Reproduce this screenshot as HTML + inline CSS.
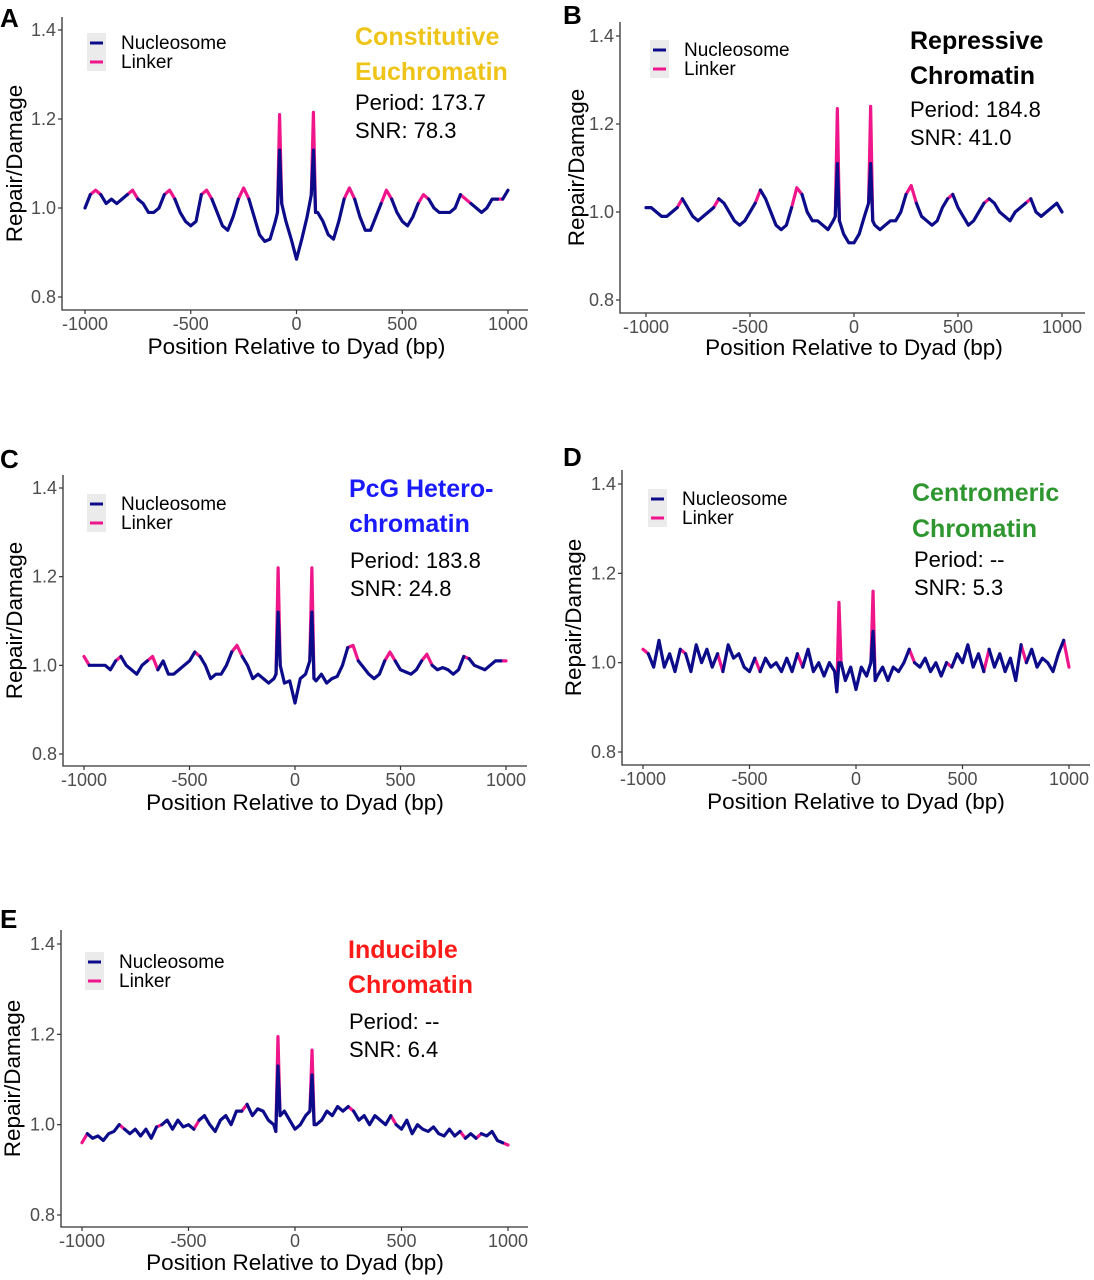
<!DOCTYPE html>
<html><head><meta charset="utf-8">
<style>
html,body{margin:0;padding:0;background:#fff;}
svg{display:block;font-family:"Liberation Sans",sans-serif;}
.tick{font-size:18px;fill:#4d4d4d;}
.axt{font-size:22.5px;fill:#000;}
.leg{font-size:19px;fill:#000;}
.ttl{font-size:25px;font-weight:bold;}
.stat{font-size:22px;fill:#000;}
.plab{font-size:26px;font-weight:bold;fill:#000;}
</style></head>
<body>
<svg id="fig" width="1094" height="1280" viewBox="0 0 1094 1280">
<text class="plab" x="0" y="27">A</text>
<text class="plab" x="563" y="24">B</text>
<text class="plab" x="0" y="468">C</text>
<text class="plab" x="563" y="466">D</text>
<text class="plab" x="0" y="928">E</text>

<g>
<text class="ttl" x="355" y="45" fill="#efc418">Constitutive</text>
<text class="ttl" x="355" y="80" fill="#efc418">Euchromatin</text>
<text class="stat" x="355" y="110">Period: 173.7</text>
<text class="stat" x="355" y="138">SNR: 78.3</text>
</g>
<g>
<text class="ttl" x="910" y="49" fill="#000">Repressive</text>
<text class="ttl" x="910" y="84" fill="#000">Chromatin</text>
<text class="stat" x="910" y="117">Period: 184.8</text>
<text class="stat" x="910" y="145">SNR: 41.0</text>
</g>
<g>
<text class="ttl" x="349" y="497" fill="#1a1aff">PcG Hetero-</text>
<text class="ttl" x="349" y="532" fill="#1a1aff">chromatin</text>
<text class="stat" x="350" y="568">Period: 183.8</text>
<text class="stat" x="350" y="596">SNR: 24.8</text>
</g>
<g>
<text class="ttl" x="912" y="501" fill="#2e962e">Centromeric</text>
<text class="ttl" x="912" y="537" fill="#2e962e">Chromatin</text>
<text class="stat" x="914" y="567">Period: --</text>
<text class="stat" x="914" y="595">SNR: 5.3</text>
</g>
<g>
<text class="ttl" x="348" y="958" fill="#ff1a1a">Inducible</text>
<text class="ttl" x="348" y="993" fill="#ff1a1a">Chromatin</text>
<text class="stat" x="349" y="1029">Period: --</text>
<text class="stat" x="349" y="1057">SNR: 6.4</text>
</g>
</svg>
<script>
const positions = [];
for (let p = -1000; p <= -100; p += 25) positions.push(p);
positions.push(-90,-80,-70,-50,-25,0,25,50,70,80,90);
for (let p = 100; p <= 1000; p += 25) positions.push(p);

const xTicks = [-1000,-500,0,500,1000];
const xTickLabels = ["-1000","-500","0","500","1000"];
const yTicks = [0.8,1.0,1.2,1.4];
const yTickLabels = ["0.8","1.0","1.2","1.4"];
const peakPositions = [-80, 80];

const valsA = [1.00,1.03,1.04,1.03,1.01,1.02,1.01,1.02,1.03,1.04,1.02,1.01,0.99,0.99,1.00,1.03,1.04,1.02,0.99,0.97,0.96,0.97,1.03,1.04,1.02,0.99,0.96,0.95,0.98,1.02,1.045,1.02,0.98,0.94,0.925,0.93,0.97,
 0.99,1.13,1.01,0.97,0.93,0.885,0.93,0.98,1.03,1.13,0.99,
 0.99,0.97,0.94,0.93,0.97,1.02,1.045,1.02,0.98,0.95,0.95,0.98,1.01,1.04,1.02,0.99,0.97,0.96,0.98,1.01,1.03,1.02,1.00,0.99,0.99,0.99,1.00,1.03,1.02,1.01,1.00,0.99,1.00,1.02,1.02,1.02,1.04];
const peaksA = [1.21, 1.215];
const linkerA = [[-975,-925],[-800,-750],[-625,-575],[-450,-400],[-275,-225],[-90,-70],[70,90],[225,275],[400,450],[575,625],[775,825],[950,975]];

const valsB = [1.01,1.01,1.00,0.99,0.99,1.00,1.01,1.03,1.01,0.99,0.98,0.99,1.00,1.01,1.03,1.02,1.00,0.98,0.97,0.98,1.00,1.02,1.05,1.03,1.00,0.97,0.96,0.97,1.01,1.055,1.04,1.00,0.98,0.98,0.97,0.96,0.98,
 0.99,1.11,0.98,0.95,0.93,0.93,0.95,0.99,1.02,1.11,0.98,
 0.97,0.96,0.97,0.98,0.98,1.00,1.04,1.06,1.02,0.99,0.98,0.97,0.98,1.01,1.03,1.04,1.01,0.99,0.97,0.98,1.00,1.02,1.03,1.02,1.00,0.99,0.98,1.00,1.01,1.02,1.03,1.00,0.99,1.00,1.01,1.02,1.00];
const peaksB = [1.235, 1.24];
const linkerB = [[-850,-825],[-675,-650],[-475,-450],[-300,-250],[-90,-70],[70,90],[250,300],[450,475],[625,650],[825,850]];

const valsC = [1.02,1.00,1.00,1.00,1.00,0.99,1.01,1.02,1.00,0.99,0.98,1.00,1.01,1.02,0.99,1.01,0.98,0.98,0.99,1.00,1.01,1.03,1.02,1.00,0.97,0.98,0.98,1.00,1.03,1.045,1.02,1.00,0.97,0.98,0.97,0.96,0.97,
 0.98,1.12,1.00,0.96,0.965,0.915,0.97,0.98,1.01,1.12,0.97,
 0.965,0.98,0.96,0.97,0.975,1.00,1.04,1.045,1.01,0.995,0.98,0.97,0.98,1.01,1.03,1.01,0.99,0.985,0.98,0.99,1.01,1.025,1.00,0.99,0.995,0.99,0.98,0.99,1.02,1.015,1.00,0.995,0.99,1.00,1.01,1.01,1.01];
const peaksC = [1.22, 1.22];
const linkerC = [[-1000,-975],[-850,-825],[-700,-650],[-475,-450],[-300,-250],[-90,-70],[70,90],[250,300],[425,475],[600,650],[800,825],[975,1000]];

const valsD = [1.03,1.02,0.99,1.05,0.99,1.02,0.98,1.03,1.02,0.98,1.04,1.00,1.03,0.99,1.02,0.98,1.04,1.01,1.02,0.99,0.98,1.01,0.98,1.01,0.99,1.00,0.98,1.01,0.98,1.02,0.99,1.03,0.98,1.00,0.97,1.00,0.98,
 0.935,1.00,1.00,0.96,0.99,0.94,0.99,0.97,1.00,1.07,0.96,
 0.97,0.99,0.96,0.99,0.98,1.00,1.03,1.00,0.99,1.01,0.98,1.00,0.97,1.00,0.99,1.02,1.00,1.04,0.99,1.02,0.98,1.03,0.99,1.02,0.98,1.01,0.96,1.04,1.00,1.03,0.99,1.01,1.00,0.98,1.02,1.05,0.99];
const peaksD = [1.135, 1.16];
const linkerD = [[-1000,-975],[-825,-800],[-650,-625],[-475,-450],[-275,-250],[-100,-70],[70,90],[250,275],[425,450],[600,625],[775,800],[975,1000]];

const valsE = [0.96,0.98,0.97,0.975,0.965,0.98,0.985,1.00,0.99,0.98,0.99,0.975,0.99,0.97,0.995,1.00,1.01,0.99,1.01,0.995,1.00,0.99,1.01,1.02,1.00,0.985,1.01,1.02,1.00,1.03,1.03,1.045,1.02,1.035,1.03,1.01,1.00,
 0.985,1.13,1.02,1.03,1.01,0.99,1.00,1.02,1.03,1.11,1.00,
 1.00,1.01,1.03,1.02,1.04,1.03,1.04,1.03,1.01,1.02,1.00,1.02,1.01,1.00,1.02,1.00,0.99,1.01,0.98,1.00,0.99,0.985,0.995,0.98,0.975,0.99,0.975,0.985,0.97,0.98,0.97,0.98,0.975,0.985,0.965,0.96,0.955];
const peaksE = [1.195, 1.165];
const linkerE = [[-1000,-975],[-825,-800],[-650,-625],[-475,-450],[-250,-225],[-90,-70],[70,90],[250,275],[450,475],[775,800],[850,875],[975,1000]];

const NS = "http://www.w3.org/2000/svg";
const svg = document.getElementById('fig');
const NAVY = "#0c0c8a", PINK = "#ef168c";

function mk(tag, attrs, parent) {
  const e = document.createElementNS(NS, tag);
  for (const k in attrs) e.setAttribute(k, attrs[k]);
  parent.appendChild(e);
  return e;
}

const panels = [
  {id:'a', vals:valsA, peaks:peaksA, linker:linkerA, axL:62, axT:17, axB:310, axR:528, x0:85, x1:508, y14:30, y08:297, legX:90, legY:43, ylabX:22, xlabY:354},
  {id:'b', vals:valsB, peaks:peaksB, linker:linkerB, axL:620, axT:22, axB:313, axR:1085, x0:646, x1:1062, y14:36, y08:300, legX:653, legY:50, ylabX:584, xlabY:355},
  {id:'c', vals:valsC, peaks:peaksC, linker:linkerC, axL:63, axT:475, axB:766, axR:527, x0:84, x1:506, y14:488, y08:754, legX:90, legY:504, ylabX:22, xlabY:810},
  {id:'d', vals:valsD, peaks:peaksD, linker:linkerD, axL:622, axT:470, axB:765, axR:1090, x0:643, x1:1069, y14:484, y08:752, legX:651, legY:499, ylabX:581, xlabY:809},
  {id:'e', vals:valsE, peaks:peaksE, linker:linkerE, axL:61, axT:930, axB:1227, axR:528, x0:82, x1:508, y14:944, y08:1215, legX:88, legY:962, ylabX:20, xlabY:1270}
];

panels.forEach(P => {
  const xs = v => P.x0 + (v + 1000) / 2000 * (P.x1 - P.x0);
  const ys = v => P.y08 + (v - 0.8) / 0.6 * (P.y14 - P.y08);
  const g = mk('g', {}, svg);
  
  

  const ax = mk('path', {d:`M${P.axL},${P.axT} V${P.axB} H${P.axR}`, fill:'none', stroke:'#333', 'stroke-width':1.3}, g);
  
  
  xTicks.forEach((t, i) => {
    const x = xs(t);
    mk('line', {x1:x, x2:x, y1:P.axB, y2:P.axB + 4, stroke:'#333', 'stroke-width':1.2}, g);
    const tx = mk('text', {x:x, y:P.axB + 20, 'text-anchor':'middle', class:'tick'}, g);
    tx.textContent = xTickLabels[i];
    
    
  });
  yTicks.forEach((t, i) => {
    const y = ys(t);
    mk('line', {x1:P.axL - 4, x2:P.axL, y1:y, y2:y, stroke:'#333', 'stroke-width':1.2}, g);
    const tx = mk('text', {x:P.axL - 6, y:y + 6, 'text-anchor':'end', class:'tick'}, g);
    tx.textContent = yTickLabels[i];
    
    
  });
  const xl = mk('text', {x:(xs(-1000) + xs(1000)) / 2, y:P.xlabY, 'text-anchor':'middle', class:'axt'}, g);
  xl.textContent = 'Position Relative to Dyad (bp)';
  
  
  const ym = (P.axT + P.axB) / 2;
  const yl = mk('text', {x:P.ylabX, y:ym, 'text-anchor':'middle', class:'axt', transform:`rotate(-90 ${P.ylabX} ${ym})`}, g);
  yl.textContent = 'Repair/Damage';
  
  

  const lg = mk('g', {}, g);
  
  
  mk('rect', {x:P.legX - 3, y:P.legY - 10, width:19, height:38, fill:'#ebebeb'}, lg);
  mk('line', {x1:P.legX, x2:P.legX + 13, y1:P.legY, y2:P.legY, stroke:NAVY, 'stroke-width':3}, lg);
  mk('line', {x1:P.legX, x2:P.legX + 13, y1:P.legY + 19, y2:P.legY + 19, stroke:PINK, 'stroke-width':3}, lg);
  const t1 = mk('text', {x:P.legX + 31, y:P.legY + 6, class:'leg'}, lg);
  t1.textContent = 'Nucleosome';
  
  
  const t2 = mk('text', {x:P.legX + 31, y:P.legY + 25, class:'leg'}, lg);
  t2.textContent = 'Linker';
  
  

  const linkVal = i => {
    const k = peakPositions.indexOf(positions[i]);
    return k >= 0 ? P.peaks[k] : P.vals[i];
  };
  const isPeakRange = r => peakPositions.some(p => p >= r[0] && p <= r[1]);
  P.linker.forEach(r => {
    let d = '';
    positions.forEach((p, i) => {
      if (p >= r[0] && p <= r[1]) d += (d ? 'L' : 'M') + xs(p).toFixed(2) + ',' + ys(linkVal(i)).toFixed(2);
    });
    if (d) {
      const pl = mk('path', {d:d, fill:'none', stroke:PINK, 'stroke-width':3.2, 'stroke-linejoin':'round', 'stroke-linecap':'round'}, g);
      
      
    }
  });
  let d = '', pen = false;
  for (let i = 0; i < positions.length - 1; i++) {
    const a = positions[i], b = positions[i + 1];
    const inOuter = P.linker.some(r => !isPeakRange(r) && a >= r[0] && b <= r[1]);
    if (inOuter) { pen = false; continue; }
    if (!pen) { d += 'M' + xs(a).toFixed(2) + ',' + ys(P.vals[i]).toFixed(2); pen = true; }
    d += 'L' + xs(b).toFixed(2) + ',' + ys(P.vals[i + 1]).toFixed(2);
  }
  const nl = mk('path', {d:d, fill:'none', stroke:NAVY, 'stroke-width':3.2, 'stroke-linejoin':'round', 'stroke-linecap':'round'}, g);
  
  
});
</script>
</body></html>
